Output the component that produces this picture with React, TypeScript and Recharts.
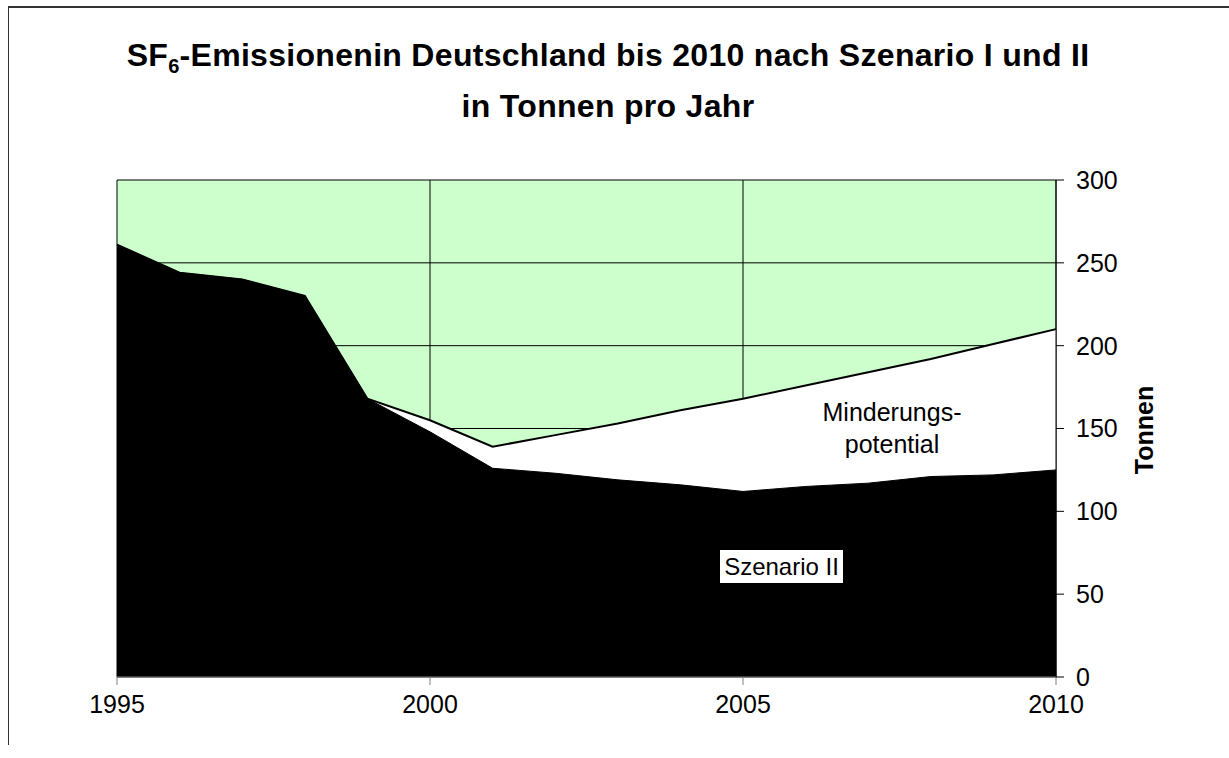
import { ComposedChart, Area, XAxis, YAxis, CartesianGrid } from "recharts"

const years = [1995, 1996, 1997, 1998, 1999, 2000, 2001, 2002, 2003, 2004, 2005, 2006, 2007, 2008, 2009, 2010]
// Szenario I (upper line, white area)
const szenarioI = [261, 244, 240, 230, 168, 155, 139, 146, 153, 161, 168, 176, 184, 192, 201, 210]
// Szenario II (black area)
const szenarioII = [261, 244, 240, 230, 168, 148, 126, 123, 119, 116, 112, 115, 117, 121, 122, 125]
const xTicks = [1995, 2000, 2005, 2010]
const yTicks = [0, 50, 100, 150, 200, 250, 300]

const FONT = '"Liberation Sans", Arial, sans-serif'

export default function App() {
  const data = years.map((year, i) => ({ year, szenarioI: szenarioI[i], szenarioII: szenarioII[i] }))

  return (
    <div style={{ position: "absolute", left: 0, top: 0, width: 1229, height: 758, overflow: "hidden", background: "#fff", fontFamily: FONT }}>
      {/* outer frame, only top and left edges are visible */}
      <div style={{ position: "absolute", left: 8, top: 6, width: 1221, height: 739, borderTop: "2px solid #333", borderLeft: "1px solid #333", boxSizing: "border-box" }} />

      <div style={{ position: "absolute", left: 0, top: 32, width: 1216, textAlign: "center", fontWeight: "bold", fontSize: 32, lineHeight: "47px", letterSpacing: 0.3, color: "#000" }}>
        <div>
          SF<span style={{ fontSize: 20, position: "relative", top: 7 }}>6</span>-Emissionenin Deutschland bis 2010 nach Szenario I und II
        </div>
        <div>in Tonnen pro Jahr</div>
      </div>

      <div style={{ position: "absolute", left: 0, top: 0 }}>
        <ComposedChart width={1229} height={758} data={data} margin={{ top: 180, left: 117, right: 113, bottom: 41 }}>
          <CartesianGrid fill="#CCFFCC" fillOpacity={1} stroke="#000" strokeWidth={1} />
          <XAxis
            dataKey="year"
            type="number"
            domain={[1995, 2010]}
            ticks={xTicks}
            height={40}
            stroke="#808080"
            tickSize={8}
            tickMargin={10}
            tick={{ fill: "#000", fontSize: 25, fontFamily: FONT }}
          />
          <YAxis
            orientation="right"
            domain={[0, 300]}
            ticks={yTicks}
            width={60}
            stroke="#000"
            tickSize={8}
            tickMargin={12}
            tick={{ fill: "#000", fontSize: 25, fontFamily: FONT }}
          />
          <Area type="linear" dataKey="szenarioI" fill="#fff" fillOpacity={1} stroke="#000" strokeWidth={2} isAnimationActive={false} />
          <Area type="linear" dataKey="szenarioII" fill="#000" fillOpacity={1} stroke="#000" strokeWidth={1} isAnimationActive={false} />
        </ComposedChart>
      </div>

      <div style={{ position: "absolute", left: 792, top: 396, width: 200, textAlign: "center", fontSize: 25, lineHeight: "32px", color: "#000" }}>
        Minderungs-<br />potential
      </div>

      <div style={{ position: "absolute", left: 720, top: 550, width: 123, height: 33, background: "#fff", textAlign: "center", fontSize: 24, lineHeight: "33px", color: "#000" }}>
        Szenario II
      </div>

      <div style={{ position: "absolute", left: 1144, top: 430, transform: "translate(-50%, -50%) rotate(-90deg)", fontWeight: "bold", fontSize: 25, color: "#000", whiteSpace: "nowrap" }}>
        Tonnen
      </div>
    </div>
  )
}
